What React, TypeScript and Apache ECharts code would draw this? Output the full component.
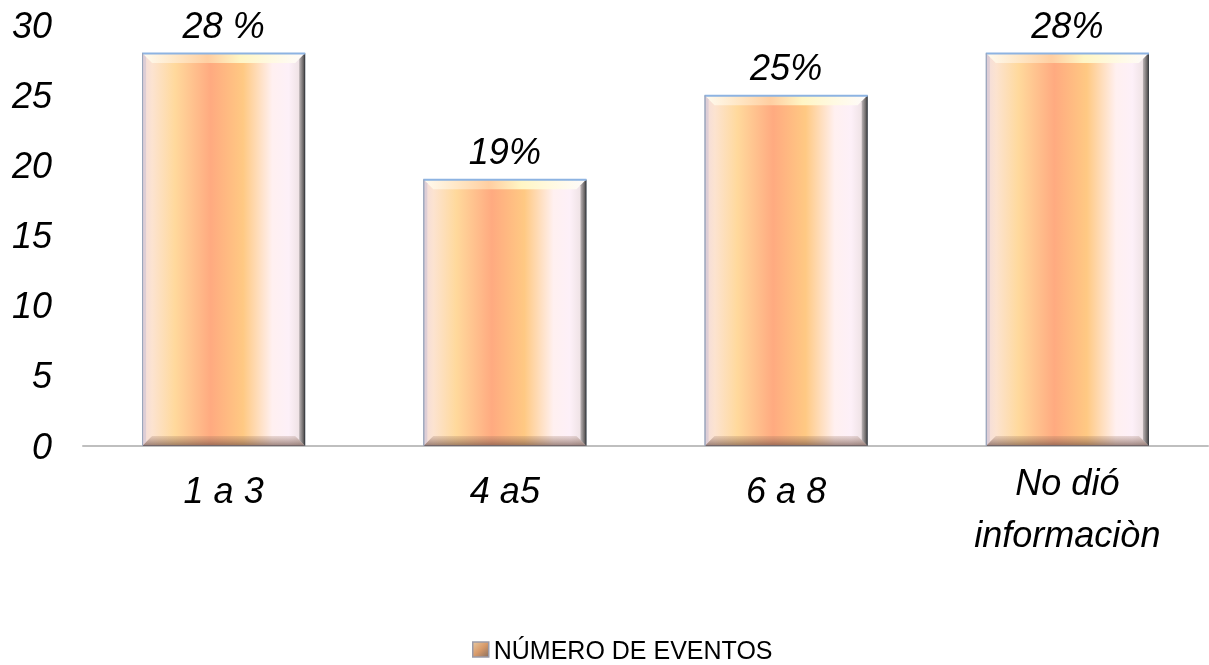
import React, { useEffect, useRef } from "react";
import * as echarts from "echarts";

const categories = ["1 a 3", "4 a5", "6 a 8", "No dió\ninformaciòn"];
const values = [28, 19, 25, 28];
const pctLabels = ["28 %", "19%", "25%", "28%"];
const seriesName = "NÚMERO DE EVENTOS";
const yMin = 0;
const yMax = 30;
const yInterval = 5;

const FONT = "'Liberation Sans', Arial, sans-serif";
const BAR_RATIO = 0.58;

export default function App() {
  const ref = useRef<HTMLDivElement>(null);
  useEffect(() => {
    document.body.style.margin = "0";
    const chart = echarts.init(ref.current!, null, { renderer: "svg" });
    const fill = new echarts.graphic.LinearGradient(0, 0, 1, 0, [
      { offset: 0, color: "#F2DCDC" },
      { offset: 0.06, color: "#FCE3D0" },
      { offset: 0.2, color: "#FFD99C" },
      { offset: 0.42, color: "#FFAA80" },
      { offset: 0.62, color: "#FFC983" },
      { offset: 0.8, color: "#FFF0F0" },
      { offset: 0.9, color: "#FDF0F8" },
      { offset: 1, color: "#E8DCDC" },
    ]);
    const legendFill = new echarts.graphic.LinearGradient(0, 0, 1, 1, [
      { offset: 0, color: "#E8C8A0" },
      { offset: 0.5, color: "#D89A6A" },
      { offset: 1, color: "#8A7060" },
    ]);
    chart.setOption({
      animation: false,
      textStyle: { fontFamily: FONT },
      grid: { left: 83, right: 1, top: 25, bottom: 219, containLabel: false },
      legend: {
        top: 632,
        left: 467,
        itemWidth: 16,
        itemHeight: 15,
        icon: "rect",
        textStyle: { fontSize: 25, color: "#000", fontFamily: FONT },
        data: [
          {
            name: seriesName,
            itemStyle: { color: legendFill, borderColor: "#9A9AA8", borderWidth: 1.5 },
          },
        ],
      },
      xAxis: {
        type: "category",
        data: categories.map((c, i) =>
          i === 3 ? { value: c, textStyle: { padding: [-8, 0, 0, 0] } } : c
        ),
        axisLine: { lineStyle: { color: "#BFBFBF", width: 2 } },
        axisTick: { show: false },
        axisLabel: {
          fontSize: 36,
          fontStyle: "italic",
          color: "#000",
          margin: 18,
          lineHeight: 52,
          interval: 0,
        },
      },
      yAxis: {
        type: "value",
        min: yMin,
        max: yMax,
        interval: yInterval,
        splitLine: { show: false },
        axisLine: { show: false },
        axisTick: { show: false },
        axisLabel: { fontSize: 36, fontStyle: "italic", color: "#000", margin: 31 },
      },
      series: [
        {
          name: seriesName,
          type: "bar",
          barWidth: BAR_RATIO * 100 + "%",
          data: values,
          z: 2,
          itemStyle: { color: fill, borderColor: "#8A9BB5", borderWidth: 1 },
          label: {
            show: true,
            position: "top",
            distance: 10,
            fontSize: 36,
            fontStyle: "italic",
            color: "#000",
            formatter: (p: any) => pctLabels[p.dataIndex],
          },
        },
        {
          name: "bevel",
          type: "custom",
          z: 3,
          silent: true,
          data: values.map((v, i) => [i, v]),
          renderItem: (params: any, api: any) => {
            const idx = api.value(0);
            const top = api.coord([idx, api.value(1)]);
            const base = api.coord([idx, 0]);
            const w = api.size([1, 0])[0] * BAR_RATIO;
            const x0 = top[0] - w / 2;
            const x1 = top[0] + w / 2;
            const y0 = top[1];
            const y1 = base[1];
            const b = 10;
            return {
              type: "group",
              children: [
                {
                  type: "polygon",
                  shape: { points: [[x0, y0], [x1, y0], [x1 - b, y0 + b], [x0 + b, y0 + b]] },
                  style: {
                    fill: new echarts.graphic.LinearGradient(0, 0, 1, 0, [
                      { offset: 0, color: "rgba(255,252,240,0.95)" },
                      { offset: 0.4, color: "rgba(255,215,170,0.8)" },
                      { offset: 0.6, color: "rgba(255,248,200,0.95)" },
                      { offset: 1, color: "rgba(255,252,252,0.95)" },
                    ]),
                  },
                },
                {
                  type: "polygon",
                  shape: { points: [[x0, y1], [x1, y1], [x1 - b, y1 - b], [x0 + b, y1 - b]] },
                  style: {
                    fill: new echarts.graphic.LinearGradient(0, 0, 0, 1, [
                      { offset: 0, color: "rgba(150,110,90,0.2)" },
                      { offset: 1, color: "rgba(100,70,60,0.65)" },
                    ]),
                  },
                },
                {
                  type: "polygon",
                  shape: { points: [[x1, y0], [x1, y1], [x1 - 6, y1 - 6], [x1 - 6, y0 + 6]] },
                  style: {
                    fill: new echarts.graphic.LinearGradient(0, 0, 1, 0, [
                      { offset: 0, color: "rgba(90,90,90,0.35)" },
                      { offset: 1, color: "rgba(40,40,40,0.9)" },
                    ]),
                  },
                },
                {
                  type: "polygon",
                  shape: { points: [[x0, y0], [x0, y1], [x0 + 4, y1 - 4], [x0 + 4, y0 + 4]] },
                  style: { fill: "rgba(200,190,210,0.5)" },
                },
                {
                  type: "line",
                  shape: { x1: x0, y1: y0 + 0.5, x2: x1, y2: y0 + 0.5 },
                  style: { stroke: "#8DB3E2", lineWidth: 2 },
                },
                {
                  type: "line",
                  shape: { x1: x0 + 0.5, y1: y0, x2: x0 + 0.5, y2: y1 },
                  style: { stroke: "#9AA6BC", lineWidth: 1 },
                },
              ],
            };
          },
        },
      ],
    });
    return () => chart.dispose();
  }, []);
  return <div ref={ref} style={{ position: "fixed", left: 0, top: 0, width: 1209, height: 665 }} />;
}
